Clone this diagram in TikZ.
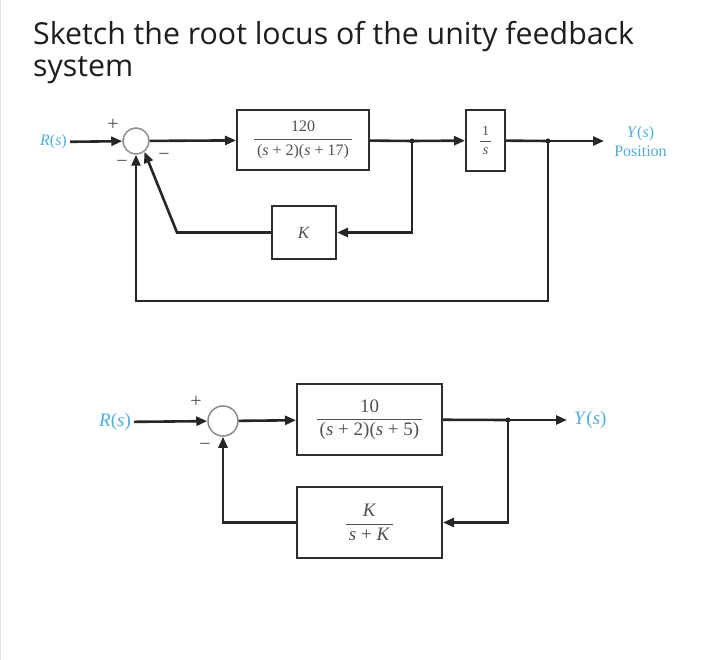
\documentclass[tikz,border=0pt]{standalone}
\usepackage{amsmath}
\usepackage{fontspec}
\setmainfont{Liberation Serif}
\newfontfamily\titlefont{Open Sans}
\usetikzlibrary{arrows.meta}
\definecolor{wirec}{HTML}{262626}
\definecolor{framec}{HTML}{2E2E2E}
\definecolor{ringc}{HTML}{8C8C8C}
\definecolor{lblue}{HTML}{4DAEDF}
\definecolor{ink}{HTML}{1E1E1E}
\definecolor{gry}{HTML}{505050}
\definecolor{edge}{HTML}{E2E2E2}
\newcommand{\blockfrac}[2]{\ensuremath{\dfrac{\mbox{#1}}{\mbox{\hspace{3pt}#2\hspace{3pt}}}}}

\begin{document}
\begin{tikzpicture}[x=1pt, y=-1pt,
  wire/.style={line width=2.6pt, draw=wirec},
  sig/.style={wire, -{Triangle[length=11pt,width=9pt]}},
  blk/.style={draw=framec, line width=2pt, fill=white, text=gry, inner sep=0pt},
  sum/.style={circle, draw=ringc, line width=1.5pt, fill=white, inner sep=0pt},
  lbl/.style={text=lblue, inner sep=3pt},
  sgn/.style={text=gry, inner sep=0pt, font=\fontsize{20}{20}\selectfont},
  dot/.style={circle, fill=wirec, inner sep=0pt, minimum size=5pt}]
  \useasboundingbox[fill=white] (0,0) rectangle (720,660);
  \draw[edge, line width=1pt] (0.5,0) -- (0.5,660);
  \node[text=ink, font=\titlefont\fontsize{30.3}{34}\selectfont, anchor=base west, inner sep=0pt] (t1) at (33,45) {Sketch the root locus of the unity feedback};
  \node[text=ink, font=\titlefont\fontsize{30.3}{34}\selectfont, anchor=base west, inner sep=0pt] (t2) at (33,77) {system};

  % top loop
  \begin{scope}[font=\fontsize{16}{19}\selectfont]
  \node[lbl] (r1) at (53.5,142) {\textit{R}(\textit{s})};
  \node[sum, minimum size=26pt] (s1) at (136,141) {};
  \node[blk, minimum width=132pt, minimum height=60pt] (g1) at (303,140) {\blockfrac{120}{(\textit{s} + 2)(\textit{s} + 17)}};
  \node[blk, minimum width=39pt, minimum height=61pt, font=\fontsize{14}{16}\selectfont] (i1) at (485.5,140.5) {\blockfrac{1}{\textit{s}}};
  \node[blk, minimum width=64pt, minimum height=53pt, font=\fontsize{17}{19}\selectfont] (k1) at (304,232.5) {\textit{K}};
  \node[lbl, align=center] (y1) at (640.5,141.5) {\textit{Y}(\textit{s})\\Position};
  \node[sgn] (p1) at (113,125) {+};
  \node[sgn] (m1) at (122,164) {\textminus};
  \node[sgn] (m2) at (164,157) {\textminus};
  \end{scope}
  \node[dot] (j1) at (412,141) {};
  \node[dot] (j2) at (548,141) {};
  \coordinate (o1) at (604,141);
  \coordinate (b1) at (177,232.5);
  \coordinate (c1) at (548,301);

  \draw[sig] (r1) -- (s1);
  \draw[sig] (s1) -- (g1);
  \draw[wire] (g1) -- (j1.center);
  \draw[sig] (j1.center) -- (i1);
  \draw[wire] (i1) -- (j2.center);
  \draw[sig] (j2.center) -- (o1);
  \draw[sig] (j1.center) |- (k1.east);
  \draw[sig] (k1.west) -- (b1) -- (s1.-52);
  \draw[sig] (j2.center) -- (c1) -| (s1.south);

  % bottom loop
  \begin{scope}[font=\fontsize{19}{22}\selectfont]
  \node[lbl] (r2) at (115,422) {\textit{R}(\textit{s})};
  \node[sum, minimum size=30pt] (s2) at (223,421) {};
  \node[blk, minimum width=145pt, minimum height=71pt] (g2) at (369.5,419.5) {\blockfrac{10}{(\textit{s} + 2)(\textit{s} + 5)}};
  \node[blk, minimum width=145pt, minimum height=71pt] (h2) at (369.5,522.5) {\blockfrac{\textit{K}}{\textit{s} + \textit{K}}};
  \node[lbl, anchor=west] (y2) at (571,420) {\textit{Y}(\textit{s})};
  \node[sgn] (p2) at (196,402) {+};
  \node[sgn] (m3) at (205,447) {\textminus};
  \end{scope}
  \node[dot] (j3) at (508,420) {};
  \coordinate (o2) at (567,420);
  \coordinate (c2) at (223,522.5);

  \draw[sig] (r2) -- (s2);
  \draw[sig] (s2) -- (g2);
  \draw[wire] (g2) -- (j3.center);
  \draw[sig] (j3.center) -- (o2);
  \draw[sig] (j3.center) |- (h2.east);
  \draw[sig] (h2.west) -- (c2) -- (s2.south);
\end{tikzpicture}
\end{document}
